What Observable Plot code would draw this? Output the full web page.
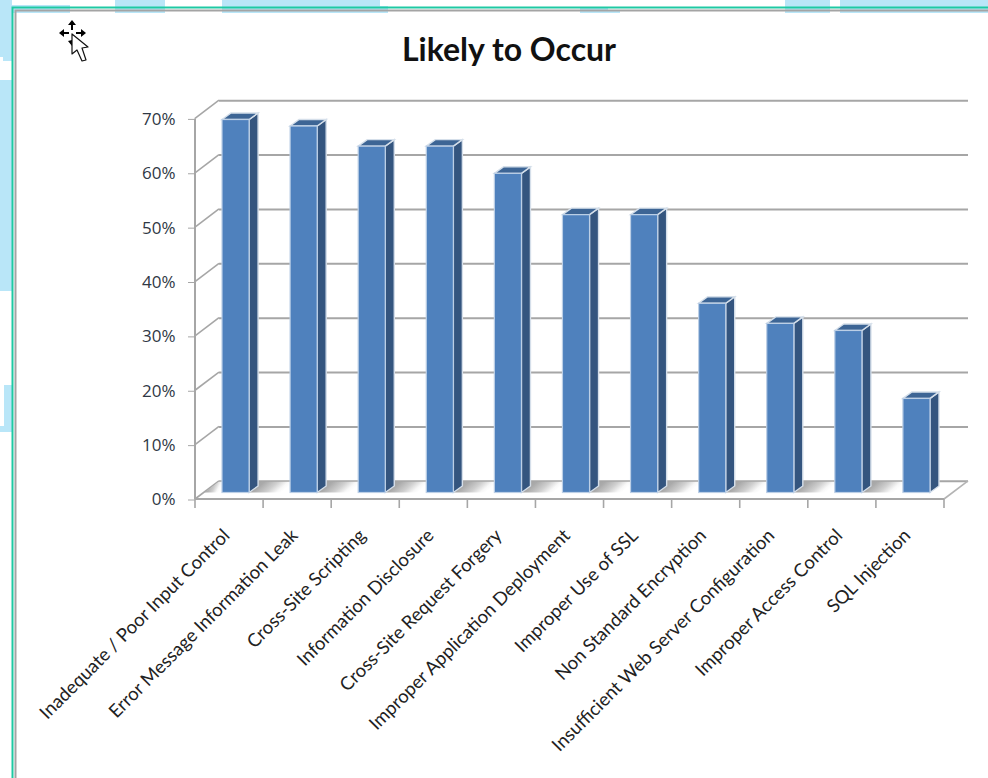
<!DOCTYPE html>
<html>
<head>
<meta charset="utf-8">
<title>Likely to Occur</title>
<script src="https://cdn.jsdelivr.net/npm/d3@7"></script>
<script src="https://cdn.jsdelivr.net/npm/@observablehq/plot@0.6"></script>
<style>
  html, body { margin: 0; padding: 0; background: #fff; }
  svg { display: block; }
</style>
</head>
<body>
<div id="chart"></div>
<script>
// Survey results: share of respondents rating each weakness as likely to occur.
const categories = [
  "Inadequate / Poor Input Control",
  "Error Message Information Leak",
  "Cross-Site Scripting",
  "Information Disclosure",
  "Cross-Site Request Forgery",
  "Improper Application Deployment",
  "Improper Use of SSL",
  "Non Standard Encryption",
  "Insufficient Web Server Configuration",
  "Improper Access Control",
  "SQL Injection"
];
const likelihood = [68.6, 67.4, 63.7, 63.7, 58.7, 51.1, 51.1, 34.8, 31.1, 29.8, 17.3];
const axisPercents = [0, 10, 20, 30, 40, 50, 60, 70];

const rows = categories.map((name, i) => ({name, value: likelihood[i]}));

// Depth of the pseudo-3D box and of the bars inside it, in pixels.
const wall = {dx: 24, dy: -18.2};
const bar = {dx: 6.5, dy: -6.5, depthX: 9, depthY: -6.5, inset: 20.5};

const svgNS = "http://www.w3.org/2000/svg";
function el(tag, attrs, parent) {
  const node = document.createElementNS(svgNS, tag);
  for (const k in attrs) node.setAttribute(k, attrs[k]);
  if (parent) parent.appendChild(node);
  return node;
}
const poly = (pts) => pts.map((p) => p.join(",")).join(" ");

// Desktop backdrop and the window frame around the chart.
function windowFrame() {
  const g = el("g", {});
  const sky = "#b9e6f8";
  const patches = [
    [0, 5, 70, 8], [115, 0, 50, 13], [222, 0, 158, 13], [380, 6, 8, 7],
    [580, 8, 28, 5], [608, 11, 12, 2], [785, 0, 45, 13], [840, 0, 148, 13],
    [0, 0, 12, 57], [3, 57, 9, 4], [0, 80, 12, 211], [4, 385, 8, 41], [0, 426, 12, 6]
  ];
  for (const [x, y, width, height] of patches) el("rect", {x, y, width, height, fill: sky}, g);
  el("path", {d: "M12.5 778V7.5H988", fill: "none", stroke: "#1fc9a3", "stroke-width": 2}, g);
  el("path", {d: "M15.5 778V10.5H988", fill: "none", stroke: "#a4a4a4", "stroke-width": 2}, g);
  return g;
}

// Move cursor resting in the top corner of the window.
function moveCursor() {
  const g = el("g", {transform: "translate(72,33)"});
  el("path", {
    d: "M0-13l4 5h-3v5h-2v-5h-3zM-13 0l5-4v3h5v2h-5v3zM14 0l-5-4v3h-5v2h5v3zM-4 8l4 5v-6z",
    fill: "#000"
  }, g);
  el("path", {
    d: "M0 1V21L5 17L10 28L14 27L10 15L16 14Z",
    fill: "#fff", stroke: "#111", "stroke-width": 1.2, "stroke-linejoin": "round"
  }, g);
  return g;
}

// Side walls, floor and the soft shadow between the columns.
function box(index, scales, values, dims) {
  const {x, y} = scales;
  const g = el("g", {});
  const defs = el("defs", {}, g);
  const grad = el("linearGradient", {id: "floor-shade", x1: 0, y1: 0, x2: 1, y2: 0.3}, defs);
  [[0, "#9f9f9f"], [0.35, "#aaaaaa"], [0.65, "#cfcfcf"], [0.88, "#f8f8f8"], [1, "#ffffff"]].forEach(([o, c]) =>
    el("stop", {offset: o, "stop-color": c}, grad));

  const left = dims.marginLeft;
  const right = dims.width - dims.marginRight;
  const y0 = y(0);
  const step = x.bandwidth();

  // diagonal gridline stubs on the left wall
  for (const t of axisPercents) {
    el("line", {
      x1: left, y1: y(t), x2: left + wall.dx, y2: y(t) + wall.dy,
      stroke: "#a6a6a6", "stroke-width": 1.6
    }, g);
  }
  // floor shading; the first patch is cut by the floor's left edge
  const barLeft = (c) => x(c) + bar.dx + bar.inset;
  const shadeTop = y0 + wall.dy + 1;
  const shadeBottom = y0 + bar.dy;
  const edgeAt = (py) => left + wall.dx * (py - y0) / wall.dy + 1;
  categories.forEach((c, i) => {
    const end = barLeft(c);
    const pts = i === 0
      ? [[edgeAt(shadeTop), shadeTop], [end, shadeTop], [end, shadeBottom], [edgeAt(shadeBottom), shadeBottom]]
      : (() => {
          const start = barLeft(categories[i - 1]) + step - 2 * bar.inset;
          return [[start, shadeTop], [end, shadeTop], [end, shadeBottom], [start, shadeBottom]];
        })();
    el("polygon", {points: poly(pts), fill: "url(#floor-shade)"}, g);
  });
  // floor outline
  el("path", {
    d: `M${right} ${y0}L${right + wall.dx} ${y0 + wall.dy}`,
    stroke: "#b4b4b4", "stroke-width": 1.6, fill: "none"
  }, g);
  el("line", {x1: left, y1: y0, x2: right, y2: y0, stroke: "#a6a6a6", "stroke-width": 2}, g);
  // value axis line
  el("line", {x1: left, x2: left, y1: y(0), y2: y(70), stroke: "#a6a6a6", "stroke-width": 2}, g);
  // category separators below the floor
  d3.range(categories.length + 1).forEach((i) => {
    const px = left + i * step;
    el("line", {x1: px, y1: y0, x2: px, y2: y0 + 9, stroke: "#a6a6a6", "stroke-width": 1.6}, g);
  });
  return g;
}

// Top and side faces of each column, sharing the scales of the front bars.
function columnFaces(index, scales) {
  const {x, y} = scales;
  const g = el("g", {});
  for (const d of rows) {
    const x0 = x(d.name) + bar.dx + bar.inset;
    const x1 = x(d.name) + x.bandwidth() + bar.dx - bar.inset;
    const top = y(d.value) + bar.dy;
    const base = y(0) + bar.dy;
    const {depthX: ox, depthY: oy} = bar;
    el("polygon", {
      points: poly([[x1, top], [x1 + ox, top + oy], [x1 + ox, base + oy], [x1, base]]),
      fill: "#34557f", stroke: "#d5dfea", "stroke-width": 1.4
    }, g);
    el("polygon", {
      points: poly([[x0, top], [x0 + ox, top + oy], [x1 + ox, top + oy], [x1, top]]),
      fill: "#3d6595", stroke: "#d5dfea", "stroke-width": 1.4
    }, g);
  }
  return g;
}

const chart = Plot.plot({
  width: 988,
  height: 778,
  marginLeft: 195,
  marginRight: 44,
  marginTop: 118.4,
  marginBottom: 279,
  style: {background: "#fff", overflow: "visible"},
  x: {type: "band", domain: categories, padding: 0, round: false, label: null},
  y: {domain: [0, 70], label: null},
  marks: [
    windowFrame,
    Plot.ruleY(axisPercents, {y: (d) => d, dx: wall.dx, dy: wall.dy, stroke: "#a6a6a6", strokeWidth: 2}),
    box,
    columnFaces,
    Plot.barY(rows, {
      x: "name", y: "value",
      dx: bar.dx, dy: bar.dy,
      insetLeft: bar.inset, insetRight: bar.inset,
      fill: "#4f81bd", stroke: "#bccfe6", strokeWidth: 1.2
    }),
    Plot.axisY(axisPercents, {
      anchor: "left",
      tickSize: 7,
      tickPadding: 13,
      stroke: "#a6a6a6",
      tickFormat: (d) => `${d}%`,
      fontSize: 17,
      fontFamily: "'Open Sans', sans-serif",
      color: "#2f3845",
      label: null,
      dy: 0.5
    }),
    Plot.axisX(categories, {
      anchor: "bottom",
      tickSize: 0,
      tickPadding: 34,
      tickRotate: -45,
      fontSize: 18.5,
      fontFamily: "Lato, sans-serif",
      color: "#222",
      label: null,
      dx: -3,
      dy: -1
    }),
    Plot.text(["Likely to Occur"], {
      frameAnchor: "top",
      dy: -81,
      dx: -61,
      text: (d) => d,
      fontSize: 32,
      fontWeight: 700,
      fontFamily: "Lato, sans-serif",
      fill: "#111"
    }),
    moveCursor
  ]
});
document.getElementById("chart").appendChild(chart);
</script>
</body>
</html>
